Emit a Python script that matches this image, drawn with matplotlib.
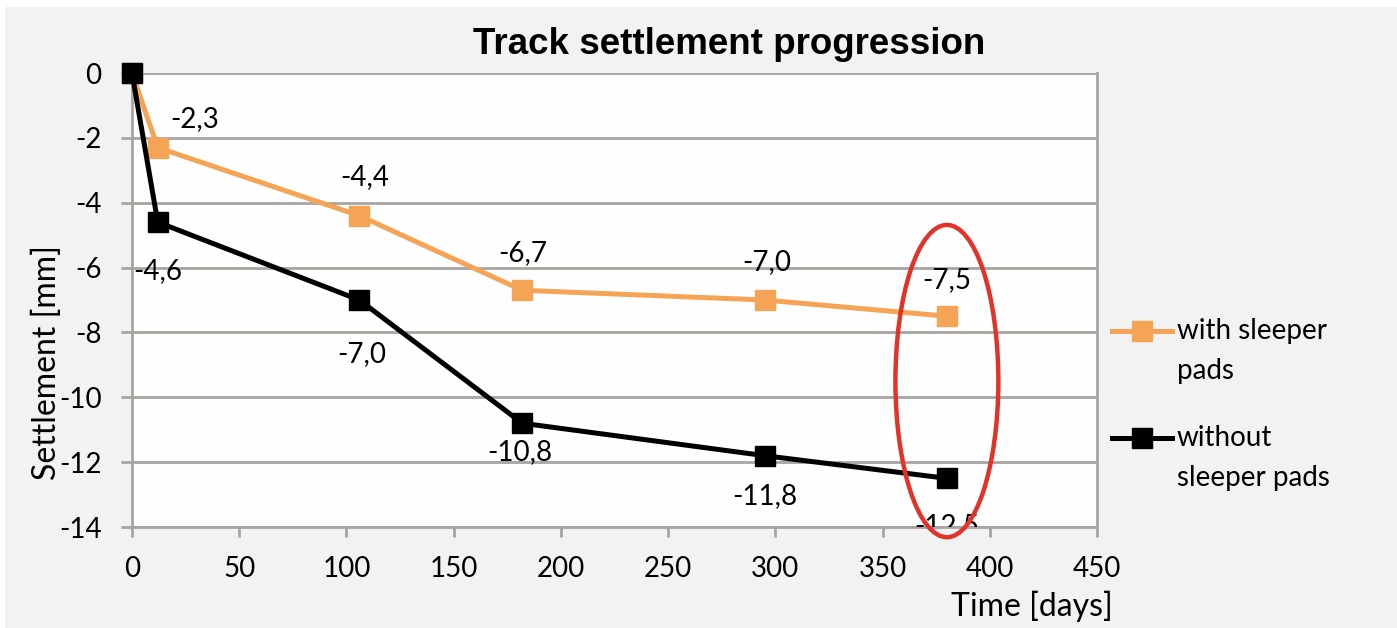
import numpy as np
import matplotlib.pyplot as plt
from matplotlib.patches import Ellipse, Rectangle
from matplotlib.lines import Line2D

# data
days = [0, 12, 106, 182, 295, 380]
with_pads = [0, -2.3, -4.4, -6.7, -7.0, -7.5]
without_pads = [0, -4.6, -7.0, -10.8, -11.8, -12.5]
series_names = ['with sleeper\npads', 'without\nsleeper pads']
x_ticks = [0, 50, 100, 150, 200, 250, 300, 350, 400, 450]
y_ticks = [0, -2, -4, -6, -8, -10, -12, -14]

# label offsets in pixels (dx, dy)
orange_off = [None, (37, 29), (5, 39), (0, 37), (2, 38), (0, 36)]
black_off = [None, (0, -49), (2, -54), (-2, -29), (0, -40), (0, -48)]

plt.rcParams['font.family'] = ['Lato', 'DejaVu Sans']
plt.rcParams['axes.unicode_minus'] = False

orange = '#f5a455'
grid_c = '#a8a4a0'
fs = 20

W, H = 1397, 628
fig = plt.figure(figsize=(W / 100, H / 100), dpi=100, facecolor='white')
fig.patches.append(Rectangle((5 / W, 0), 1, 1 - 7 / H, transform=fig.transFigure,
                             facecolor='#f2f2f2', edgecolor='none', zorder=-10))
ax = fig.add_axes([132 / W, 1 - 527 / H, (1097 - 132) / W, (527 - 73) / H])
ax.set_facecolor('#fefefe')

colors = [orange, 'black']
for vals, c, name, z in zip([with_pads, without_pads], colors, series_names, [3, 4]):
    ax.plot(days, vals, color=c, lw=3.6, marker='s', ms=15, label=name,
            clip_on=False, zorder=z)

def fmt(v):
    return ('%.1f' % v).replace('.', ',')

for x, y, off in zip(days, with_pads, orange_off):
    if off is None:
        continue
    ax.annotate(fmt(y), (x, y), xytext=off, textcoords='offset pixels',
                ha='center', va='center', fontsize=fs, zorder=5)
for i, (x, y, off) in enumerate(zip(days, without_pads, black_off)):
    if off is None:
        continue
    t = ax.annotate(fmt(y), (x, y), xytext=off, textcoords='offset pixels',
                    ha='center', va='center', fontsize=fs, zorder=5, annotation_clip=False)
    if i == len(days) - 1:
        # last label sits on the axis and is cut off by the plot area
        t.set_clip_on(True)
        t.set_clip_box(ax.bbox)

ell = Ellipse((380, -9.5), 48, 9.63, fill=False, edgecolor='#e2332a', lw=3.2,
              clip_on=False, zorder=6)
ax.add_patch(ell)

ax.set_xlim(0, 450)
ax.set_ylim(-14, 0)
ax.set_xticks(x_ticks)
ax.set_yticks(y_ticks)
ax.yaxis.grid(True, color=grid_c, lw=2)
ax.set_axisbelow(True)
for s in ['left', 'bottom', 'right']:
    ax.spines[s].set_color(grid_c)
    ax.spines[s].set_linewidth(2)
ax.spines['top'].set_visible(False)
ax.tick_params(axis='both', colors=grid_c, labelcolor='black', labelsize=fs, width=2)
ax.tick_params(axis='x', length=7, pad=14)
ax.tick_params(axis='y', length=8, pad=14)

ax.set_ylabel('Settlement [mm]', fontsize=23)
ax.yaxis.label.set(va='center', ha='center', rotation_mode='default')
ax.yaxis.set_label_coords((47 - 132) / 965, 0.363)
fig.text(1032 / W, 1 - 606 / H, 'Time [days]', fontsize=23, ha='center', va='center')
fig.text(729 / W, 1 - 45 / H, 'Track settlement progression', fontsize=26.5,
         fontweight='bold', family=['Liberation Sans', 'DejaVu Sans'], ha='center', va='center')

# legend drawn by hand: the marker sits level with the first line of each label
for c, name, y_px in zip(colors, series_names, [331, 438]):
    yf = 1 - y_px / H
    fig.add_artist(Line2D([1112 / W, 1172 / W], [yf, yf], transform=fig.transFigure,
                          color=c, lw=3.6))
    fig.add_artist(Line2D([1142 / W], [yf], transform=fig.transFigure, color=c,
                          marker='s', ms=15, lw=0))
    fig.text(1177 / W, 1 - (y_px - 13) / H, name, fontsize=fs, ha='left', va='top',
             linespacing=1.65)

fig.savefig('out.png', dpi=100, facecolor=fig.get_facecolor())
